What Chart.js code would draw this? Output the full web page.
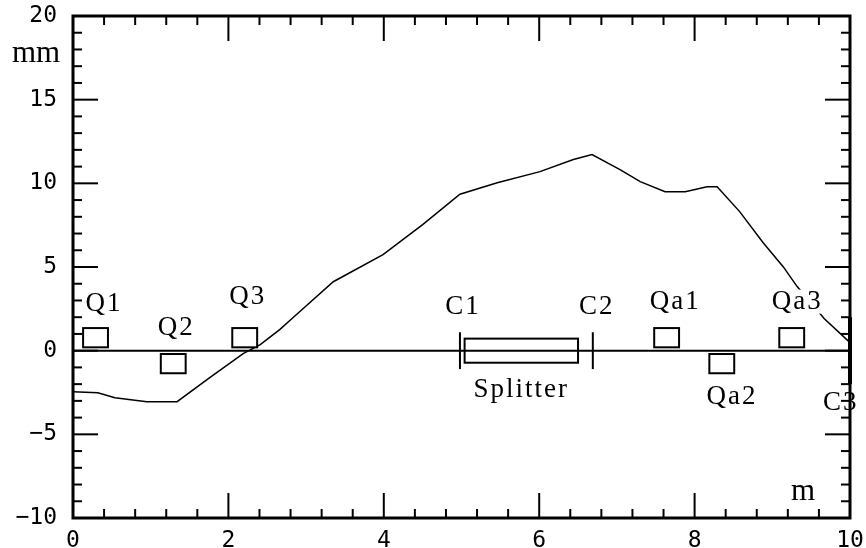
<!DOCTYPE html>
<html>
<head>
<meta charset="utf-8">
<script src="https://cdn.jsdelivr.net/npm/chart.js@4.4.1/dist/chart.umd.min.js"></script>
<style>
  body { margin: 0; background: #fff; }
  #wrap { width: 866px; height: 548px; }
</style>
</head>
<body>
<div id="wrap"><canvas id="beam"></canvas></div>
<script>
// beam envelope (m, mm)
const beamX = [0, 0.32, 0.54, 0.95, 1.34, 1.76, 2.19, 2.41, 2.66, 2.83, 3.35, 3.99, 4.50, 4.98, 5.46, 6.01, 6.44, 6.68, 7.04, 7.30, 7.62, 7.88, 8.16, 8.29, 8.58, 8.88, 9.14, 9.32, 9.67, 10.0];
const beamY = [-2.45, -2.51, -2.81, -3.05, -3.05, -1.61, -0.18, 0.36, 1.26, 1.97, 4.12, 5.74, 7.53, 9.35, 10.04, 10.7, 11.42, 11.72, 10.82, 10.1, 9.50, 9.50, 9.80, 9.80, 8.31, 6.46, 5.02, 3.83, 1.91, 0.48];

// axes
const xTicks = [0, 2, 4, 6, 8, 10];
const yTicks = [-10, -5, 0, 5, 10, 15, 20];
const xMinorPerMajor = 5;
const yMinorPerMajor = 5;

// quadrupoles: position (m), side (+1 above / -1 below)
const quadPos = [0.29, 1.29, 2.21, 7.64, 8.35, 9.25];
const quadSide = [1, -1, 1, 1, -1, 1];
const quadWidth = 0.32;
const quadInner = 0.2, quadOuter = 1.35;

// splitter box and C markers
const splitterRange = [5.04, 6.50];
const splitterHalf = 0.72;
const cPos = [4.98, 6.69, 10.0];
const cHalf = [1.1, 1.1, 2.0];

// labels placed in data coordinates
const labelText = ['Q1', 'Q2', 'Q3', 'C1', 'C2', 'Splitter', 'Qa1', 'Qa2', 'Qa3', 'C3'];
const labelX = [0.40, 1.33, 2.25, 5.02, 6.74, 5.77, 7.75, 8.48, 9.32, 9.88];
const labelY = [2.80, 1.37, 3.23, 2.63, 2.63, -2.33, 2.93, -2.75, 2.93, -3.11];

const overlay = {
    id: 'overlay',
    afterDatasetsDraw(chart) {
        const { ctx, chartArea: a, scales: { x, y } } = chart;
        const px = v => x.getPixelForValue(v);
        const py = v => y.getPixelForValue(v);
        const seg = (x1, y1, x2, y2) => { ctx.beginPath(); ctx.moveTo(x1, y1); ctx.lineTo(x2, y2); ctx.stroke(); };
        ctx.save();
        ctx.strokeStyle = '#000';

        // zero line
        ctx.lineWidth = 2;
        seg(a.left, py(0), a.right, py(0));

        // quadrupoles
        quadPos.forEach((q, i) => {
            const x1 = px(q - quadWidth / 2), x2 = px(q + quadWidth / 2);
            const y1 = py(quadSide[i] * quadInner), y2 = py(quadSide[i] * quadOuter);
            const top = Math.min(y1, y2), h = Math.abs(y2 - y1);
            ctx.fillStyle = '#fff';
            ctx.fillRect(x1, top, x2 - x1, h);
            ctx.strokeRect(x1, top, x2 - x1, h);
        });

        // splitter
        const sx1 = px(splitterRange[0]), sx2 = px(splitterRange[1]);
        ctx.strokeRect(sx1, py(splitterHalf), sx2 - sx1, py(-splitterHalf) - py(splitterHalf));

        // C markers
        cPos.forEach((c, i) => {
            ctx.lineWidth = i === 2 ? 4 : 2;
            seg(px(c), py(cHalf[i]), px(c), py(-cHalf[i]));
        });

        // labels
        ctx.font = '27px "Liberation Serif"';
        ctx.letterSpacing = '2px';
        ctx.textAlign = 'center';
        ctx.textBaseline = 'middle';
        labelText.forEach((t, i) => {
            const lx = px(labelX[i]), ly = py(labelY[i]);
            const w = ctx.measureText(t).width;
            ctx.fillStyle = '#fff';
            ctx.fillRect(lx - w / 2 - 3, ly - 12, w + 6, 24);
            ctx.fillStyle = '#000';
            ctx.fillText(t, lx, ly);
        });

        // unit labels
        ctx.font = '31px "Liberation Serif"';
        ctx.letterSpacing = '0px';
        ctx.fillText('mm', 36, 54);
        ctx.fillText('m', 803, 492);

        // frame
        ctx.lineWidth = 3;
        ctx.strokeRect(a.left, a.top, a.right - a.left, a.bottom - a.top);

        // ticks (inside, all four sides)
        ctx.lineWidth = 2;
        const major = 25, minor = 9;
        const xStep = xTicks[1] - xTicks[0], yStep = yTicks[1] - yTicks[0];
        for (let i = 0; i < xTicks.length; i++) {
            for (let k = 0; k < xMinorPerMajor; k++) {
                const v = xTicks[i] + k * xStep / xMinorPerMajor;
                if (v > xTicks[xTicks.length - 1]) break;
                const len = k === 0 ? major : minor;
                const xx = px(v);
                seg(xx, a.bottom, xx, a.bottom - len);
                seg(xx, a.top, xx, a.top + len);
            }
        }
        for (let i = 0; i < yTicks.length; i++) {
            for (let k = 0; k < yMinorPerMajor; k++) {
                const v = yTicks[i] + k * yStep / yMinorPerMajor;
                if (v > yTicks[yTicks.length - 1]) break;
                const len = k === 0 ? major : minor;
                const yy = py(v);
                seg(a.left, yy, a.left + len, yy);
                seg(a.right, yy, a.right - len, yy);
            }
        }
        ctx.restore();
    }
};

const tickFont = { family: '"DejaVu Sans Mono"', size: 23 };

new Chart(document.getElementById('beam'), {
    type: 'scatter',
    data: {
        datasets: [{
            data: beamX.map((v, i) => ({ x: v, y: beamY[i] })),
            showLine: true,
            borderColor: '#000',
            borderWidth: 1.5,
            pointRadius: 0,
            tension: 0
        }]
    },
    options: {
        responsive: true,
        maintainAspectRatio: false,
        animation: false,
        layout: { padding: { top: 16, right: 16, left: 0, bottom: 0 } },
        plugins: { legend: { display: false }, tooltip: { enabled: false } },
        scales: {
            x: {
                type: 'linear',
                min: xTicks[0], max: xTicks[xTicks.length - 1],
                afterBuildTicks: s => { s.ticks = xTicks.map(v => ({ value: v })); },
                afterFit: s => { s.height = 30; s.paddingLeft = 0; s.paddingRight = 0; },
                grid: { display: false },
                border: { display: false },
                ticks: { font: tickFont, color: '#000', padding: 1, maxRotation: 0 }
            },
            y: {
                type: 'linear',
                min: yTicks[0], max: yTicks[yTicks.length - 1],
                afterBuildTicks: s => { s.ticks = yTicks.map(v => ({ value: v })); },
                afterFit: s => { s.width = 73; s.paddingTop = 0; s.paddingBottom = 0; },
                grid: { display: false },
                border: { display: false },
                ticks: { font: tickFont, color: '#000', padding: 8, callback: v => String(v).replace('-', '\u2212') }
            }
        }
    },
    plugins: [overlay]
});
</script>
</body>
</html>
